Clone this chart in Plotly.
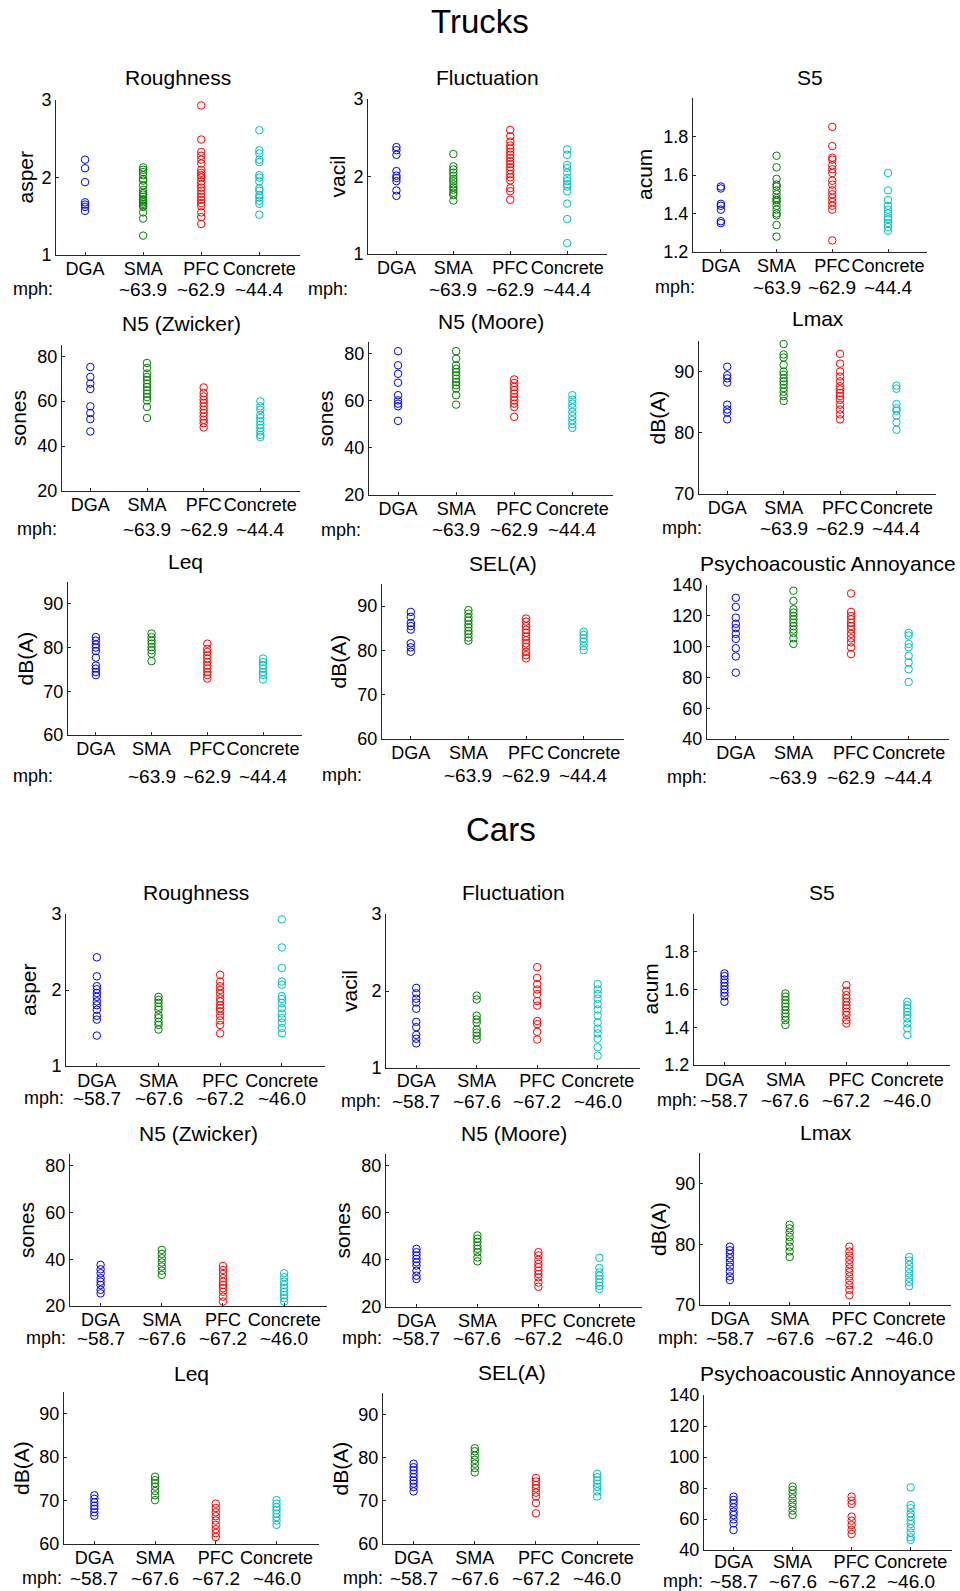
import plotly.graph_objects as go

W, H = 960, 1591
FONT = "Liberation Sans, Arial, sans-serif"
AX = "#262626"

groups = ["DGA", "SMA", "PFC", "Concrete"]
colors = ["#0000ff", "#008000", "#ff0000", "#00bfbf"]
truck_mph = ["", "~63.9", "~62.9", "~44.4"]
car_mph = ["~58.7", "~67.6", "~67.2", "~46.0"]

titles = ["Roughness", "Fluctuation", "S5", "N5 (Zwicker)", "N5 (Moore)", "Lmax",
          "Leq", "SEL(A)", "Psychoacoustic Annoyance"]
ylabels = ["asper", "vacil", "acum", "sones", "sones", "dB(A)", "dB(A)", "dB(A)", ""]
yranges = [[1, 3], [1, 3], [1.2, 2.0], [20, 85], [20, 85], [70, 95], [60, 95], [60, 95], [40, 140]]
yticks = [[1, 2, 3], [1, 2, 3], [1.2, 1.4, 1.6, 1.8], [20, 40, 60, 80], [20, 40, 60, 80],
          [70, 80, 90], [60, 70, 80, 90], [60, 70, 80, 90], [40, 60, 80, 100, 120, 140]]

# ---------------- Trucks ----------------
t_rough = {
    "DGA": [2.23, 2.12, 1.94, 1.68, 1.65, 1.62, 1.57],
    "SMA": [2.13, 2.10, 2.07, 2.03, 1.98, 1.96, 1.90, 1.84, 1.80, 1.78, 1.75, 1.72, 1.70, 1.68, 1.66, 1.64, 1.62, 1.55, 1.47, 1.25],
    "PFC": [2.93, 2.49, 2.33, 2.28, 2.23, 2.18, 2.10, 2.06, 2.03, 2.00, 1.95, 1.91, 1.87, 1.83, 1.79, 1.75, 1.71, 1.67, 1.63, 1.55, 1.49, 1.40],
    "Concrete": [2.61, 2.35, 2.31, 2.23, 2.20, 2.03, 2.00, 1.95, 1.86, 1.83, 1.77, 1.74, 1.70, 1.66, 1.52],
}
t_fluct = {
    "DGA": [2.38, 2.34, 2.28, 2.07, 2.01, 1.98, 1.94, 1.82, 1.75],
    "SMA": [2.29, 2.13, 2.09, 2.05, 2.01, 1.97, 1.94, 1.90, 1.86, 1.83, 1.79, 1.76, 1.69],
    "PFC": [2.60, 2.52, 2.45, 2.40, 2.36, 2.32, 2.28, 2.24, 2.20, 2.16, 2.12, 2.08, 2.03, 1.99, 1.95, 1.85, 1.81, 1.70],
    "Concrete": [2.35, 2.28, 2.15, 2.11, 2.05, 1.98, 1.94, 1.90, 1.87, 1.81, 1.65, 1.45, 1.14],
}
t_s5 = {
    "DGA": [1.54, 1.53, 1.45, 1.44, 1.42, 1.36, 1.35],
    "SMA": [1.70, 1.64, 1.58, 1.55, 1.54, 1.52, 1.50, 1.48, 1.47, 1.46, 1.44, 1.42, 1.40, 1.39, 1.34, 1.28],
    "PFC": [1.85, 1.75, 1.69, 1.68, 1.65, 1.63, 1.61, 1.57, 1.55, 1.52, 1.50, 1.48, 1.46, 1.44, 1.42, 1.26],
    "Concrete": [1.61, 1.52, 1.47, 1.44, 1.42, 1.40, 1.38, 1.37, 1.35, 1.33, 1.31],
}
t_zw = {
    "DGA": [75.2, 70.8, 67.8, 65.4, 57.7, 54.7, 52.0, 46.5],
    "SMA": [77.0, 74.8, 72.3, 70.8, 69.3, 67.8, 66.3, 64.8, 63.3, 61.8, 60.3, 57.4, 52.5],
    "PFC": [66.1, 63.6, 62.1, 60.6, 59.2, 57.7, 56.2, 54.7, 53.2, 51.7, 50.2, 48.3],
    "Concrete": [59.9, 57.7, 56.2, 53.9, 52.5, 51.0, 49.5, 48.0, 46.5, 45.0, 44.0],
}
t_mo = {
    "DGA": [81.1, 75.1, 71.5, 67.7, 62.4, 60.2, 58.8, 57.7, 51.5],
    "SMA": [81.1, 77.9, 75.1, 73.6, 72.2, 70.8, 69.4, 68.0, 66.6, 65.2, 62.4, 58.4],
    "PFC": [69.1, 67.6, 65.9, 64.5, 63.1, 61.6, 60.2, 58.8, 57.4, 53.2],
    "Concrete": [62.4, 60.5, 58.8, 57.1, 55.3, 53.5, 51.8, 50.1, 48.5],
}
t_lmax = {
    "DGA": [90.8, 89.4, 88.9, 88.2, 84.6, 83.8, 83.3, 82.2],
    "SMA": [94.5, 92.8, 92.3, 91.1, 90.0, 89.5, 88.9, 88.4, 87.9, 87.3, 86.7, 86.0, 85.2],
    "PFC": [92.9, 91.3, 90.0, 89.2, 88.4, 87.6, 87.1, 86.5, 86.0, 85.4, 84.6, 83.8, 83.0, 82.2],
    "Concrete": [87.7, 87.2, 84.7, 84.0, 83.6, 82.8, 81.7, 80.5],
}
t_leq = {
    "DGA": [82.4, 81.6, 80.7, 80.0, 79.2, 77.7, 75.9, 75.2, 74.4, 73.7],
    "SMA": [83.2, 82.4, 81.6, 80.9, 80.1, 79.4, 78.6, 76.9],
    "PFC": [80.9, 79.7, 79.0, 78.2, 77.5, 76.7, 75.9, 75.2, 74.4, 73.7, 72.9],
    "Concrete": [77.5, 76.7, 75.9, 75.2, 74.4, 73.7, 72.7],
}
t_sel = {
    "DGA": [88.7, 87.6, 86.2, 85.5, 84.7, 81.6, 80.7, 79.7],
    "SMA": [89.1, 88.3, 87.4, 86.7, 85.9, 85.2, 84.4, 83.7, 82.9, 82.2],
    "PFC": [87.2, 86.5, 85.5, 84.7, 84.0, 83.1, 82.3, 81.6, 80.8, 79.7, 78.9, 78.2],
    "Concrete": [84.2, 83.5, 82.7, 82.0, 81.0, 80.1],
}
t_pa = {
    "DGA": [131.7, 125.8, 118.8, 114.8, 112.0, 108.3, 105.0, 98.9, 93.6, 83.1],
    "SMA": [136.3, 129.7, 124.2, 122.1, 119.9, 117.7, 115.5, 113.3, 111.1, 108.9, 105.4, 101.7],
    "PFC": [134.5, 122.5, 119.9, 117.7, 115.5, 113.3, 111.1, 108.3, 105.4, 102.8, 99.5, 95.1],
    "Concrete": [108.9, 107.2, 101.7, 99.5, 94.0, 89.7, 85.3, 77.0],
}

# ---------------- Cars ----------------
c_rough = {
    "DGA": [2.43, 2.18, 2.05, 2.01, 1.96, 1.91, 1.85, 1.80, 1.74, 1.66, 1.61, 1.40],
    "SMA": [1.91, 1.87, 1.83, 1.78, 1.74, 1.67, 1.63, 1.58, 1.54, 1.48],
    "PFC": [2.20, 2.11, 2.05, 2.00, 1.95, 1.89, 1.85, 1.80, 1.76, 1.72, 1.66, 1.60, 1.54, 1.43],
    "Concrete": [2.93, 2.56, 2.29, 2.11, 2.07, 1.92, 1.88, 1.83, 1.76, 1.69, 1.63, 1.57, 1.50, 1.43],
}
c_fluct = {
    "DGA": [2.04, 1.97, 1.90, 1.85, 1.77, 1.60, 1.53, 1.43, 1.38, 1.32],
    "SMA": [1.94, 1.89, 1.68, 1.63, 1.59, 1.50, 1.46, 1.42, 1.37],
    "PFC": [2.31, 2.17, 2.09, 2.02, 1.96, 1.87, 1.81, 1.61, 1.57, 1.47, 1.37],
    "Concrete": [2.09, 2.02, 1.96, 1.90, 1.83, 1.76, 1.68, 1.59, 1.51, 1.45, 1.38, 1.27, 1.16],
}
c_s5 = {
    "DGA": [1.685, 1.671, 1.653, 1.636, 1.618, 1.600, 1.583, 1.565, 1.535],
    "SMA": [1.579, 1.562, 1.544, 1.526, 1.509, 1.491, 1.473, 1.456, 1.438, 1.412],
    "PFC": [1.623, 1.593, 1.570, 1.553, 1.535, 1.517, 1.500, 1.482, 1.465, 1.438, 1.420],
    "Concrete": [1.535, 1.517, 1.500, 1.482, 1.465, 1.447, 1.420, 1.394, 1.359],
}
c_zw = {
    "DGA": [37.6, 35.7, 34.0, 31.9, 30.4, 29.0, 26.9, 25.4],
    "SMA": [44.0, 42.3, 40.4, 38.6, 36.9, 35.1, 33.3],
    "PFC": [37.1, 35.4, 33.7, 31.9, 30.4, 29.0, 27.6, 26.1, 24.0, 21.9],
    "Concrete": [34.0, 32.3, 30.4, 29.0, 27.6, 26.1, 24.7, 23.3, 21.9],
}
c_mo = {
    "DGA": [44.7, 43.3, 41.9, 40.4, 39.0, 37.6, 35.4, 33.3, 31.9],
    "SMA": [50.4, 49.0, 47.6, 46.1, 44.7, 43.3, 41.1, 39.4],
    "PFC": [43.3, 41.9, 40.0, 38.3, 36.9, 35.4, 34.0, 32.6, 30.4, 28.6],
    "Concrete": [40.9, 36.6, 34.7, 33.3, 31.9, 30.4, 29.0, 27.6],
}
c_lmax = {
    "DGA": [79.6, 79.0, 78.4, 77.7, 77.0, 76.3, 75.5, 74.7, 74.1],
    "SMA": [83.2, 82.6, 81.9, 81.2, 80.4, 79.6, 78.8, 77.9],
    "PFC": [79.6, 78.8, 78.1, 77.4, 76.7, 76.0, 75.4, 74.7, 74.0, 73.3, 72.5, 71.6],
    "Concrete": [77.9, 77.3, 76.6, 75.9, 75.2, 74.5, 73.8, 73.1],
}
c_leq = {
    "DGA": [71.2, 70.4, 69.6, 68.8, 68.1, 67.3, 66.5],
    "SMA": [75.5, 74.7, 74.0, 73.2, 72.2, 71.2, 70.1],
    "PFC": [69.3, 68.3, 67.3, 66.4, 65.4, 64.4, 63.4, 62.5, 61.6],
    "Concrete": [70.1, 69.3, 68.5, 67.8, 67.0, 66.2, 65.4, 64.4],
}
c_sel = {
    "DGA": [78.6, 77.8, 77.1, 76.3, 75.5, 74.7, 74.0, 73.2, 72.2],
    "SMA": [82.2, 81.5, 80.5, 79.5, 78.6, 77.6, 76.6],
    "PFC": [75.3, 74.5, 73.7, 72.9, 71.9, 71.0, 69.5, 67.1],
    "Concrete": [76.3, 75.5, 74.7, 74.0, 73.2, 72.2, 71.0],
}
c_pa = {
    "DGA": [74.4, 72.3, 70.1, 67.5, 64.7, 62.6, 59.8, 57.2, 52.9],
    "SMA": [80.9, 78.7, 76.1, 73.3, 70.5, 68.0, 65.4, 62.6],
    "PFC": [74.4, 71.8, 69.7, 61.5, 58.9, 56.1, 52.9, 50.3],
    "Concrete": [80.4, 69.0, 66.9, 63.7, 61.5, 58.9, 56.8, 54.0, 51.2, 48.2, 46.5],
}

truck_sets = [t_rough, t_fluct, t_s5, t_zw, t_mo, t_lmax, t_leq, t_sel, t_pa]
car_sets = [c_rough, c_fluct, c_s5, c_zw, c_mo, c_lmax, c_leq, c_sel, c_pa]

# ---------------- layout geometry (pixels) ----------------
# (x0, x1, ytop, ybottom, title_y, ylabel_x, mph_x, speed_y, tick_standoff)
truck_boxes = [
    (56, 300, 100, 255, 78, 25, 33, 289, -3),
    (368, 607, 99, 254, 77, 337, 328, 289, -3),
    (693, 927, 98, 252, 77, 645, 675, 287, -3),
    (62, 300, 345, 491, 323, 18, 37, 529, -3),
    (369, 613, 342, 495, 321, 325, 341, 530, -3),
    (699, 936, 341, 494, 318, 657, 682, 528, -3),
    (68, 302, 582, 735, 561, 25, 33, 776, -3),
    (382, 624, 584, 739, 564, 338, 342, 775, -3),
    (707, 949, 585, 739, 564, None, 687, 777, -3),
]
car_boxes = [
    (66, 325, 914, 1066, 892, 28, 44, 1098, -2),
    (386, 640, 914, 1068, 892, 349, 361, 1101, -4),
    (694, 950, 914, 1065, 892, 650, 677, 1100, -2),
    (70, 327, 1154, 1306, 1133, 26, 46, 1338, -3),
    (386, 642, 1154, 1307, 1133, 342, 362, 1338, -3),
    (700, 951, 1153, 1305, 1132, 658, 678, 1338, -3),
    (64, 319, 1392, 1544, 1373, 21, 42, 1578, -3),
    (383, 640, 1393, 1544, 1372, 340, 363, 1578, -3),
    (704, 952, 1395, 1550, 1373, None, 683, 1581, -5),
]

fig = go.Figure()
layout = dict(
    width=W, height=H, margin=dict(l=0, r=0, t=0, b=0, pad=0, autoexpand=False),
    paper_bgcolor="white", plot_bgcolor="white", showlegend=False,
    font=dict(family=FONT, color=AX, size=18),
)
annotations = []


def px(x):
    return x / W


def py(y):
    return 1 - y / H


idx = 0
for section, (sets, boxes, mph) in enumerate([(truck_sets, truck_boxes, truck_mph),
                                               (car_sets, car_boxes, car_mph)]):
    for p in range(9):
        idx += 1
        data = sets[p]
        x0, x1, yt, yb, ty, ylx, mphx, spy, tso = boxes[p]
        xa = "x" if idx == 1 else f"x{idx}"
        ya = "y" if idx == 1 else f"y{idx}"
        for g, grp in enumerate(groups):
            vals = data[grp]
            fig.add_trace(go.Scatter(
                x=[g + 1] * len(vals), y=vals, mode="markers",
                marker=dict(symbol="circle-open", size=7.5, color=colors[g],
                            line=dict(width=1, color=colors[g])),
                xaxis=xa, yaxis=ya, hoverinfo="skip", cliponaxis=False,
            ))
        layout["xaxis" if idx == 1 else f"xaxis{idx}"] = dict(
            domain=[px(x0), px(x1)], anchor=ya, range=[0.5, 4.7],
            tickmode="array", tickvals=[1, 2, 3, 4], ticktext=groups, tickangle=0,
            ticks="inside", ticklen=3, tickcolor=AX, showline=True, linecolor=AX,
            linewidth=1, showgrid=False, zeroline=False, fixedrange=True, automargin=False,
            tickfont=dict(size=18, family=FONT, color="black"), ticklabelstandoff=tso,
        )
        layout["yaxis" if idx == 1 else f"yaxis{idx}"] = dict(
            domain=[py(yb), py(yt)], anchor=xa, range=yranges[p],
            tickmode="array", tickvals=yticks[p],
            ticks="inside", ticklen=3, tickcolor=AX, showline=True, linecolor=AX,
            linewidth=1, showgrid=False, zeroline=False, fixedrange=True, automargin=False,
            tickfont=dict(size=18, family=FONT, color="black"),
        )
        # subplot title
        annotations.append(dict(
            text=titles[p], x=px((x0 + x1) / 2), y=py(ty), xref="paper", yref="paper",
            showarrow=False, xanchor="center", yanchor="middle",
            font=dict(size=21, family=FONT, color="black")))
        # y label
        if ylabels[p] and ylx is not None:
            annotations.append(dict(
                text=ylabels[p], x=px(ylx), y=py((yt + yb) / 2), xref="paper", yref="paper",
                showarrow=False, textangle=-90, xanchor="center", yanchor="middle",
                font=dict(size=21, family=FONT, color="black")))
        # "mph:" label
        annotations.append(dict(
            text="mph:", x=px(mphx), y=py(spy), xref="paper", yref="paper",
            showarrow=False, xanchor="center", yanchor="middle",
            font=dict(size=18, family=FONT, color="black")))
        # speed labels under categories (data x coordinate)
        for g, s in enumerate(mph):
            if s:
                annotations.append(dict(
                    text=s, x=g + 1, y=py(spy), xref=xa, yref="paper",
                    showarrow=False, xanchor="center", yanchor="middle",
                    font=dict(size=19, family=FONT, color="black")))

annotations.append(dict(text="Trucks", x=px(480), y=py(22), xref="paper", yref="paper",
                        showarrow=False, xanchor="center", yanchor="middle",
                        font=dict(size=33, family=FONT, color="black")))
annotations.append(dict(text="Cars", x=px(501), y=py(830), xref="paper", yref="paper",
                        showarrow=False, xanchor="center", yanchor="middle",
                        font=dict(size=33, family=FONT, color="black")))
layout["annotations"] = annotations
fig.update_layout(**layout)
fig.write_html("out.html", config={"displayModeBar": False},
               post_script="document.body.style.margin='0';document.body.style.overflow='hidden';")
